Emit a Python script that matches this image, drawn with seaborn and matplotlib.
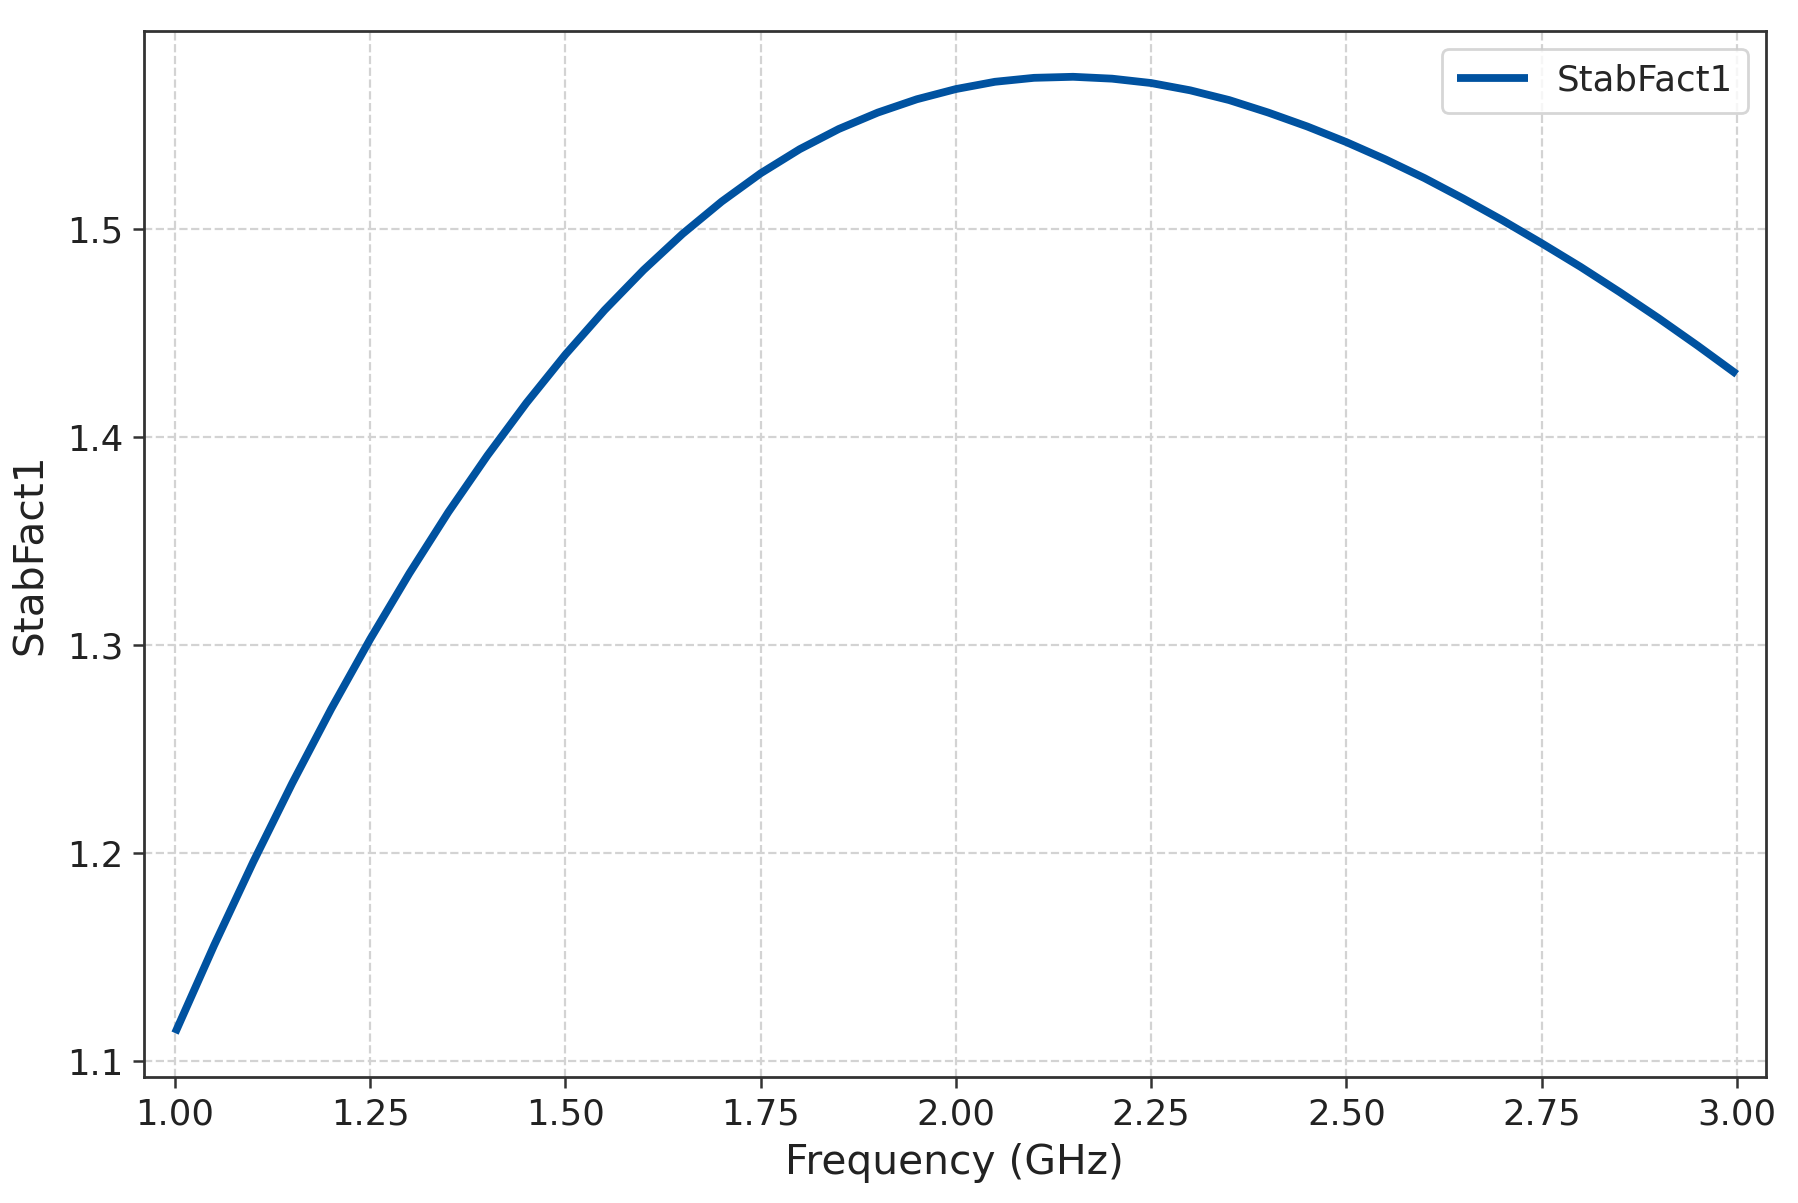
import numpy as np
import pandas as pd
import matplotlib
matplotlib.use("Agg")
import matplotlib.pyplot as plt
import seaborn as sns

# Frequency in GHz
frequency = [1.00, 1.05, 1.10, 1.15, 1.20, 1.25, 1.30, 1.35, 1.40, 1.45,
             1.50, 1.55, 1.60, 1.65, 1.70, 1.75, 1.80, 1.85, 1.90, 1.95,
             2.00, 2.05, 2.10, 2.15, 2.20, 2.25, 2.30, 2.35, 2.40, 2.45,
             2.50, 2.55, 2.60, 2.65, 2.70, 2.75, 2.80, 2.85, 2.90, 2.95,
             3.00]
# Stability factor values
stabfact1 = [1.1135, 1.1557, 1.1957, 1.2336, 1.2694, 1.3030, 1.3345, 1.3640, 1.3912, 1.4165,
             1.4398, 1.4611, 1.4804, 1.4978, 1.5133, 1.5269, 1.5385, 1.5482, 1.5561, 1.5625,
             1.5674, 1.5709, 1.5728, 1.5733, 1.5724, 1.5703, 1.5668, 1.5621, 1.5561, 1.5494,
             1.5419, 1.5336, 1.5246, 1.5147, 1.5043, 1.4933, 1.4819, 1.4698, 1.4572, 1.4440,
             1.4303]

series_name = "StabFact1"
x_label = "Frequency (GHz)"
y_label = "StabFact1"
x_ticks = [1.00, 1.25, 1.50, 1.75, 2.00, 2.25, 2.50, 2.75, 3.00]
y_ticks = [1.1, 1.2, 1.3, 1.4, 1.5]

df = pd.DataFrame({"Frequency": frequency, series_name: stabfact1})

sns.set_style("ticks")
plt.rcParams['font.family'] = ['DejaVu Sans']

fig = plt.figure(figsize=(8.99, 6.015), dpi=200)
ax = fig.add_axes([0.080, 0.1046, 0.902, 0.8696])

sns.lineplot(data=df, x="Frequency", y=series_name, ax=ax, color="#0052A0",
             linewidth=2.8, label=series_name)
for ln in ax.get_lines():
    ln.set_solid_joinstyle("round")
    ln.set_solid_capstyle("butt")

ax.set_xlim(0.96, 3.037)
ax.set_ylim(1.0923, 1.5953)
ax.set_xticks(x_ticks)
ax.set_xticklabels([f"{t:.2f}" for t in x_ticks])
ax.set_yticks(y_ticks)
ax.set_yticklabels([f"{t:.1f}" for t in y_ticks])
ax.tick_params(axis="both", labelsize=12.8, length=4, width=0.9, color="#333333",
               labelcolor="#222222")

ax.grid(True, linestyle="--", color="#d3d3d3", linewidth=0.8)
ax.set_axisbelow(True)
for s in ax.spines.values():
    s.set_color("#333333")
    s.set_linewidth(1.0)

ax.set_xlabel(x_label, fontsize=14.7, labelpad=4, color="#222222")
ax.set_ylabel(y_label, fontsize=14.7, labelpad=6, color="#222222")

leg = ax.legend(loc="upper right", fontsize=12.8, frameon=True, fancybox=True,
                handlelength=2.0, borderpad=0.42)
leg.get_frame().set_edgecolor("#cccccc")

fig.savefig("out.png", dpi=200)
